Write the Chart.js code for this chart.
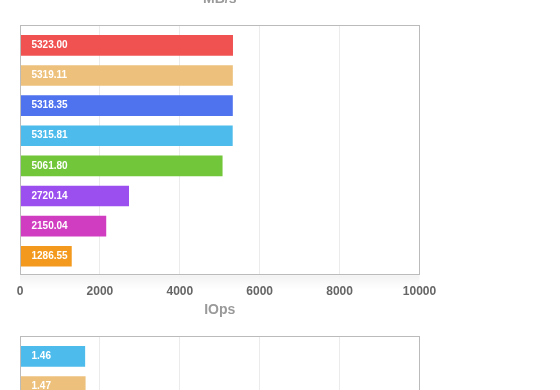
<!DOCTYPE html>
<html>
<head>
<meta charset="utf-8">
<script src="https://cdn.jsdelivr.net/npm/chart.js@4/dist/chart.umd.min.js"></script>
<style>
  html, body { margin: 0; padding: 0; background: #fff; width: 560px; height: 390px; overflow: hidden; position: relative; }
  .chart-box { position: absolute; left: 0; width: 560px; height: 320px; }
</style>
</head>
<body>
<div class="chart-box" style="top:-9px"><canvas id="mbChart"></canvas></div>
<div class="chart-box" style="top:301.5px"><canvas id="iopsChart"></canvas></div>
<script>
  // ========== DATA ==========
  const mbLabels = ['Config 1', 'Config 2', 'Config 3', 'Config 4', 'Config 5', 'Config 6', 'Config 7', 'Config 8'];
  const mbValues = [5323.00, 5319.11, 5318.35, 5315.81, 5061.80, 2720.14, 2150.04, 1286.55];
  const mbColors = ['#f05252', '#edc17c', '#4f72ee', '#4dbbeb', '#72c63a', '#9b4fee', '#d03dc0', '#f39a1e'];
  const mbTicks = [0, 2000, 4000, 6000, 8000, 10000];

  const iopsLabels = ['Config 4', 'Config 2'];
  const iopsValues = [1.46, 1.47];
  const iopsColors = ['#4dbbeb', '#edc17c'];
  const iopsTicks = [0, 1.8, 3.6, 5.4, 7.2, 9];

  const rowCount = 8;
  const FONT = '"Liberation Sans", Arial, Helvetica, sans-serif';

  // box round the plot area, with a soft shadow under the bottom edge
  const framePlugin = {
    id: 'frame',
    afterDatasetsDraw(chart) {
      const { ctx, chartArea: a } = chart;
      ctx.save();
      const g = ctx.createLinearGradient(0, a.bottom, 0, a.bottom + 14);
      g.addColorStop(0, 'rgba(0,0,0,0.05)');
      g.addColorStop(1, 'rgba(0,0,0,0)');
      ctx.fillStyle = g;
      ctx.fillRect(a.left, a.bottom, a.width, 14);
      ctx.strokeStyle = '#bbbbbb';
      ctx.lineWidth = 1;
      ctx.strokeRect(Math.round(a.left) + 0.5, Math.round(a.top) + 0.5, Math.round(a.width) - 1, Math.round(a.height) - 1);
      ctx.restore();
    }
  };

  // value printed inside each bar
  const valueLabelPlugin = {
    id: 'valueLabels',
    afterDraw(chart) {
      const ctx = chart.ctx;
      const ds = chart.data.datasets[0];
      const meta = chart.getDatasetMeta(0);
      ctx.save();
      ctx.font = 'bold 10px ' + FONT;
      ctx.fillStyle = '#ffffff';
      ctx.textBaseline = 'middle';
      ctx.textAlign = 'left';
      meta.data.forEach((bar, i) => {
        ctx.fillText(ds.data[i].x.toFixed(2), bar.base + 11, bar.y);
      });
      ctx.restore();
    }
  };

  function makeChart(id, title, labels, values, colors, ticks) {
    const ctx = document.getElementById(id).getContext('2d');
    return new Chart(ctx, {
      type: 'bar',
      data: {
        labels: labels,
        datasets: [{
          data: values.map((v, i) => ({ x: v, y: i })),
          backgroundColor: colors,
          borderWidth: 0,
          barThickness: 20
        }]
      },
      options: {
        indexAxis: 'y',
        responsive: true,
        maintainAspectRatio: false,
        animation: false,
        layout: { padding: { left: 20, right: 140.5, top: 0, bottom: 3.4 } },
        plugins: {
          legend: { display: false },
          tooltip: { enabled: false },
          title: {
            display: true,
            text: title,
            fullSize: false,
            color: '#9a9a9a',
            font: { family: FONT, size: 14, weight: 'bold' },
            padding: { top: 0, bottom: 17.4 }
          }
        },
        scales: {
          x: {
            type: 'linear',
            min: ticks[0],
            max: ticks[ticks.length - 1],
            afterBuildTicks: (scale) => { scale.ticks = ticks.map(v => ({ value: v })); },
            grid: { color: '#ebebeb', drawTicks: false },
            border: { display: false },
            ticks: {
              color: '#666',
              padding: 9,
              font: { family: FONT, size: 12, weight: 'bold' },
              callback: (v) => String(v)
            }
          },
          y: {
            type: 'linear',
            display: false,
            reverse: true,
            offset: false,
            grid: { offset: false },
            bounds: 'data',
            afterDataLimits: (scale) => { scale.min = -0.67; scale.max = rowCount - 1 + 0.63; }
          }
        }
      },
      plugins: [framePlugin, valueLabelPlugin]
    });
  }

  makeChart('mbChart', 'MB/s', mbLabels, mbValues, mbColors, mbTicks);
  makeChart('iopsChart', 'IOps', iopsLabels, iopsValues, iopsColors, iopsTicks);
</script>
</body>
</html>
